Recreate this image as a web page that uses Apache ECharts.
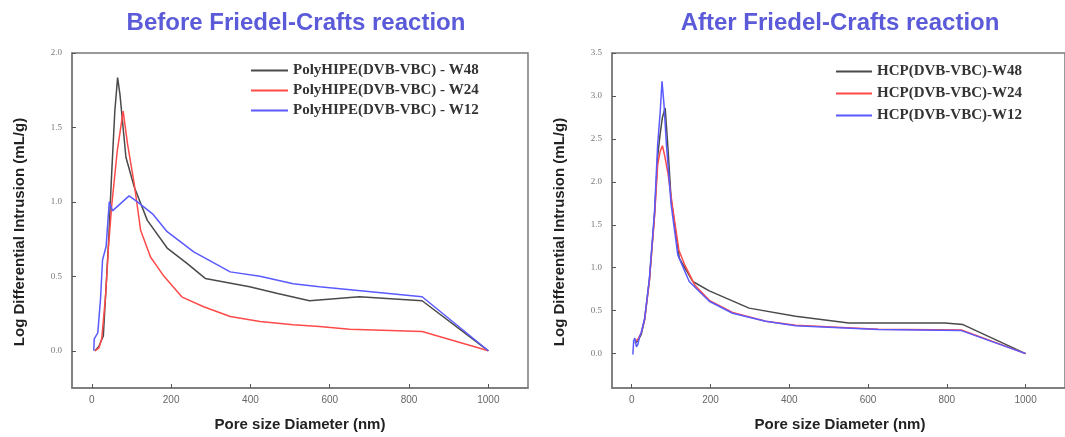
<!DOCTYPE html>
<html>
<head>
<meta charset="utf-8">
<script src="https://cdn.jsdelivr.net/npm/echarts@6/dist/echarts.min.js"></script>
<style>html,body{margin:0;padding:0;background:#fff}#c{width:1065px;height:437px}</style>
</head>
<body>
<div id="c"></div>
<script>
// ---- data ----
const titles = ['Before Friedel-Crafts reaction', 'After Friedel-Crafts reaction'];
const xAxisName = 'Pore size Diameter (nm)';
const yAxisName = 'Log Differential Intrusion (mL/g)';
const xTicks = [0, 200, 400, 600, 800, 1000];
const yTicksBefore = [0, 0.5, 1.0, 1.5, 2.0];
const yTicksAfter = [0, 0.5, 1.0, 1.5, 2.0, 2.5, 3.0, 3.5];
const namesBefore = ['PolyHIPE(DVB-VBC) - W48', 'PolyHIPE(DVB-VBC) - W24', 'PolyHIPE(DVB-VBC) - W12'];
const namesAfter = ['HCP(DVB-VBC)-W48', 'HCP(DVB-VBC)-W24', 'HCP(DVB-VBC)-W12'];

const beforeW48 = [[8,0.0],[18,0.03],[29,0.1],[42,0.72],[50,1.19],[58,1.61],[65,1.835],[71,1.72],[86,1.30],[107,1.10],[140,0.876],[190,0.69],[240,0.587],[286,0.486],[398,0.43],[466,0.386],[549,0.336],[675,0.363],[833,0.336],[1000,0.0]];
const beforeW24 = [[8,0.0],[18,0.02],[25,0.08],[35,0.38],[42,0.7],[50,0.97],[64,1.34],[79,1.61],[90,1.39],[107,1.12],[123,0.81],[148,0.63],[182,0.50],[228,0.36],[282,0.296],[349,0.23],[424,0.196],[508,0.174],[574,0.163],[650,0.145],[833,0.13],[1000,0.0]];
const beforeW12 = [[5,0.0],[6,0.08],[15,0.12],[22,0.35],[27,0.61],[36,0.70],[44,1.0],[52,0.94],[73,0.99],[94,1.04],[115,1.0],[153,0.92],[190,0.80],[257,0.664],[349,0.53],[424,0.50],[508,0.45],[574,0.43],[833,0.363],[1000,0.0]];

const afterW48 = [[8,0.12],[16,0.15],[24,0.22],[33,0.4],[45,0.86],[58,1.62],[66,2.3],[72,2.55],[78,2.75],[85,2.86],[92,2.40],[100,1.8],[121,1.11],[155,0.84],[197,0.73],[298,0.53],[416,0.435],[551,0.357],[795,0.357],[841,0.338],[1000,0.0]];
const afterW24 = [[10,0.15],[16,0.17],[24,0.24],[33,0.4],[45,0.85],[58,1.6],[66,2.2],[72,2.35],[78,2.42],[84,2.3],[92,2.1],[104,1.70],[120,1.2],[134,1.04],[160,0.8],[197,0.62],[256,0.48],[340,0.376],[416,0.33],[626,0.285],[837,0.275],[1000,0.0]];
const afterW12 = [[3,-0.01],[5,0.15],[8,0.18],[12,0.08],[16,0.11],[20,0.2],[24,0.24],[33,0.415],[45,0.88],[58,1.66],[66,2.44],[72,2.79],[77,3.17],[82,2.90],[88,2.44],[100,1.74],[117,1.15],[146,0.84],[197,0.61],[256,0.47],[340,0.376],[416,0.326],[626,0.28],[837,0.268],[1000,0.0]];

const colors = ['#4a4a4a', '#ff4a4a', '#5a5aff'];
const titleColor = '#5b5bd9';

// ---- chart ----
const chart = echarts.init(document.getElementById('c'), null, {renderer: 'canvas'});
const axisCol = '#7a7a7a';
function xAx(gi) {
  return {
    type: 'value', gridIndex: gi, min: -50, max: 1100,
    axisLine: {show: true, onZero: false, lineStyle: {color: axisCol, width: 1.5}},
    axisTick: {show: true, inside: true, length: 4, customValues: xTicks, lineStyle: {color: '#555'}},
    axisLabel: {customValues: xTicks, fontSize: 10, color: '#666', margin: 7, fontFamily: 'Liberation Sans',
      formatter: v => String(v)},
    splitLine: {show: false}
  };
}
function yAx(gi, min, max, ticks) {
  return {
    type: 'value', gridIndex: gi, min: min, max: max,
    axisLine: {show: true, onZero: false, lineStyle: {color: axisCol, width: 1.5}},
    axisTick: {show: true, inside: true, length: 4, customValues: ticks, lineStyle: {color: '#555'}},
    axisLabel: {customValues: ticks, fontSize: 9, color: '#777', margin: 10, fontFamily: 'Liberation Serif',
      formatter: v => v.toFixed(1)},
    splitLine: {show: false}
  };
}
function ser(name, data, gi, c) {
  return {type: 'line', name: name, data: data, xAxisIndex: gi, yAxisIndex: gi,
    showSymbol: false, symbol: 'none', smooth: false,
    lineStyle: {color: c, width: 1.5}, itemStyle: {color: c}, animation: false};
}
const legendText = {fontFamily: 'Liberation Serif', fontWeight: 'bold', fontSize: 15, color: '#333'};
const nameFont = 'bold 15px "Liberation Sans"';
chart.setOption({
  animation: false,
  grid: [
    {left: 72, top: 53, width: 456, height: 335, show: true, borderColor: axisCol, borderWidth: 1.5},
    {left: 612, top: 53, width: 456, height: 335, show: true, borderColor: axisCol, borderWidth: 1.5}
  ],
  xAxis: [xAx(0), xAx(1)],
  yAxis: [yAx(0, -0.25, 2.0, yTicksBefore), yAx(1, -0.4, 3.5, yTicksAfter)],
  legend: [
    {data: namesBefore, orient: 'vertical', left: 251, top: 63, itemWidth: 37, itemHeight: 2, icon: 'rect',
      itemGap: 5, textStyle: legendText, padding: 0},
    {data: namesAfter, orient: 'vertical', left: 836, top: 64, itemWidth: 36, itemHeight: 2, icon: 'rect',
      itemGap: 7, textStyle: legendText, padding: 0}
  ],
  graphic: [
    {type: 'text', x: 296, y: 23, style: {text: titles[0], fill: titleColor,
      font: 'bold 24px "Liberation Sans"', textAlign: 'center', textVerticalAlign: 'middle'}},
    {type: 'text', x: 840, y: 23, style: {text: titles[1], fill: titleColor,
      font: 'bold 24px "Liberation Sans"', textAlign: 'center', textVerticalAlign: 'middle'}},
    {type: 'text', x: 20, y: 232, rotation: Math.PI / 2, style: {text: yAxisName, fill: '#222',
      font: nameFont, textAlign: 'center', textVerticalAlign: 'middle'}},
    {type: 'text', x: 560, y: 232, rotation: Math.PI / 2, style: {text: yAxisName, fill: '#222',
      font: nameFont, textAlign: 'center', textVerticalAlign: 'middle'}},
    {type: 'text', x: 300, y: 425, style: {text: xAxisName, fill: '#222',
      font: nameFont, textAlign: 'center', textVerticalAlign: 'middle'}},
    {type: 'text', x: 840, y: 425, style: {text: xAxisName, fill: '#222',
      font: nameFont, textAlign: 'center', textVerticalAlign: 'middle'}}
  ],
  series: [
    ser(namesBefore[0], beforeW48, 0, colors[0]),
    ser(namesBefore[1], beforeW24, 0, colors[1]),
    ser(namesBefore[2], beforeW12, 0, colors[2]),
    ser(namesAfter[0], afterW48, 1, colors[0]),
    ser(namesAfter[1], afterW24, 1, colors[1]),
    ser(namesAfter[2], afterW12, 1, colors[2])
  ]
});
</script>
</body>
</html>
